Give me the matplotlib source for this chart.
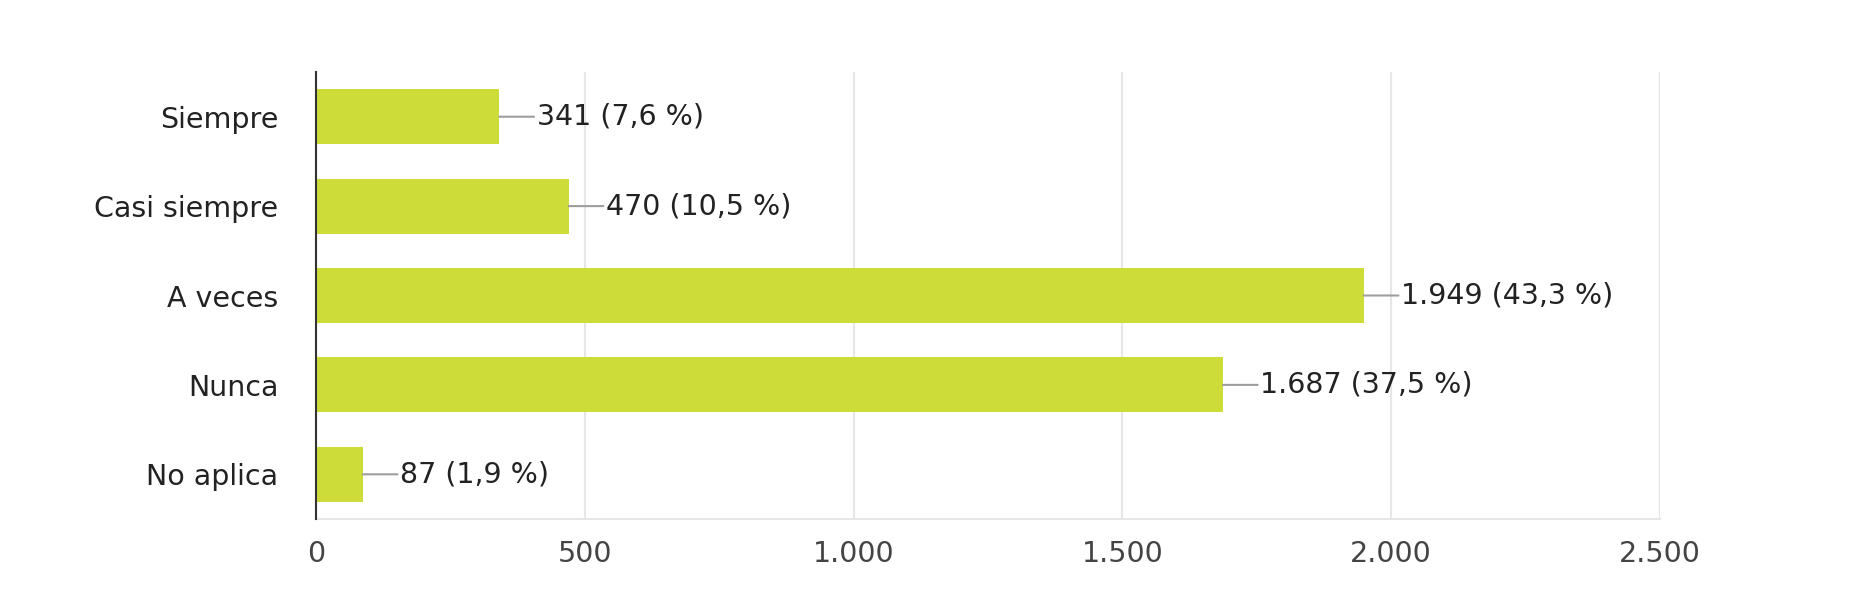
import matplotlib
matplotlib.use("Agg")
import matplotlib.pyplot as plt
from matplotlib.ticker import FuncFormatter

categories = ["Siempre", "Casi siempre", "A veces", "Nunca", "No aplica"]
counts = [341, 470, 1949, 1687, 87]
percents = [7.6, 10.5, 43.3, 37.5, 1.9]
xticks = [0, 500, 1000, 1500, 2000, 2500]

plt.rcParams['font.family'] = ['DejaVu Sans']

W, H, DPI = 1869, 596, 100
FS = 20.5
fig = plt.figure(figsize=(W / DPI, H / DPI), dpi=DPI)
ax = fig.add_axes([316 / W, 1 - 519 / H, (1660 - 316) / W, (519 - 72) / H])

bar_color = "#cddc39"
ypos = list(range(len(categories)))
ax.barh(ypos, counts, height=0.615, color=bar_color, zorder=3)

def fmt_num(v):
    return f"{v:,.0f}".replace(",", ".")

for y, c, p in zip(ypos, counts, percents):
    label = f"{fmt_num(c)} ({str(p).replace('.', ',')} %)"
    ax.annotate(label, xy=(c, y), xytext=(27, 0), textcoords="offset points",
                ha="left", va="center", fontsize=FS, color="#222222",
                arrowprops=dict(arrowstyle="-", color="#9e9e9e", lw=1.5,
                                shrinkA=0, shrinkB=0), zorder=4)

ax.set_xlim(0, 2500)
ax.set_ylim(len(categories) - 0.5, -0.5)
ax.set_yticks(ypos)
ax.set_yticklabels(categories, fontsize=FS, color="#222222")
ax.set_xticks(xticks)
ax.xaxis.set_major_formatter(FuncFormatter(lambda v, _: fmt_num(v)))
ax.tick_params(axis="x", labelsize=FS, labelcolor="#444444", length=0, pad=15)
ax.tick_params(axis="y", length=0, pad=27)

ax.grid(axis="x", color="#e6e6e6", lw=1.5, zorder=0)
ax.spines["top"].set_visible(False)
ax.spines["right"].set_visible(False)
ax.spines["bottom"].set_color("#e6e6e6")
ax.spines["bottom"].set_linewidth(1.5)
ax.spines["left"].set_color("#333333")
ax.spines["left"].set_linewidth(1.5)
ax.spines["left"].set_zorder(5)

fig.savefig("out.png", dpi=DPI, facecolor="white")
